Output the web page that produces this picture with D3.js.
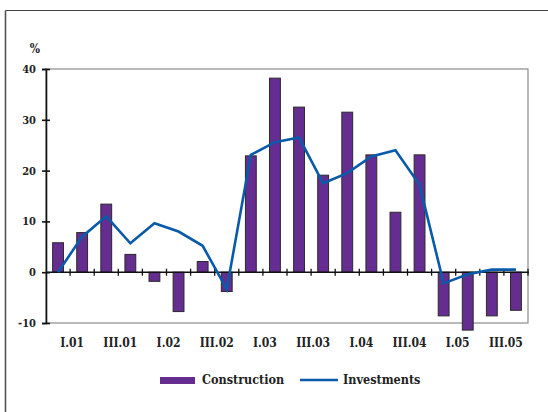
<!DOCTYPE html>
<html>
<head>
<meta charset="utf-8">
<script src="https://cdn.jsdelivr.net/npm/d3@7/dist/d3.min.js"></script>
<style>
  html, body { margin: 0; padding: 0; background: #fff; }
  svg { display: block; }
  text { font-family: "DejaVu Serif Condensed", "DejaVu Serif", serif; font-weight: bold; font-stretch: condensed; fill: #222; }
</style>
</head>
<body>
<svg id="chart" width="548" height="412"></svg>
<script>
const categories = ["I.01","II.01","III.01","IV.01","I.02","II.02","III.02","IV.02",
  "I.03","II.03","III.03","IV.03","I.04","II.04","III.04","IV.04",
  "I.05","II.05","III.05","IV.05"];
const construction = [5.8, 7.8, 13.4, 3.5, -1.8, -7.75, 2.1, -3.8,
  22.9, 38.2, 32.5, 19.1, 31.5, 23.1, 11.8, 23.1,
  -8.6, -11.4, -8.6, -7.5];
const investments = [0.0, 7.0, 11.0, 5.7, 9.65, 8.0, 5.2, -3.35,
  23.1, 25.6, 26.5, 17.5, 19.5, 22.8, 24.0, 17.2,
  -2.2, -0.4, 0.5, 0.5];
const yTicks = [-10, 0, 10, 20, 30, 40];
const xLabelCats = ["I.01","III.01","I.02","III.02","I.03","III.03","I.04","III.04","I.05","III.05"];
const seriesNames = ["Construction", "Investments"];

const svg = d3.select("#chart");
const pL = 46, pR = 528, pT = 69, pB = 323;
const purple = "#652d90", blue = "#0a5aaa";

// outer frame
svg.append("line").attr("x1", 5.5).attr("x2", 548).attr("y1", 10.5).attr("y2", 10.5)
  .attr("stroke", "#444").attr("stroke-width", 1.2);
svg.append("line").attr("x1", 5.5).attr("x2", 5.5).attr("y1", 10.5).attr("y2", 412)
  .attr("stroke", "#555").attr("stroke-width", 1.6);

const x = d3.scaleBand().domain(categories).range([pL, pR])
  .paddingInner(0.55).paddingOuter(0.275);
const y = d3.scaleLinear().domain([-10, 40]).range([pB, pT]);
const step = x.step();
const bandStart = d => x(d) - (step - x.bandwidth()) / 2;

// plot area border
svg.append("rect").attr("x", pL).attr("y", pT).attr("width", pR - pL).attr("height", pB - pT)
  .attr("fill", "none").attr("stroke", "#8a8a8a").attr("stroke-width", 1.2);

// bars
svg.append("g").selectAll("rect").data(categories).join("rect")
  .attr("x", d => x(d))
  .attr("width", x.bandwidth())
  .attr("y", (d, i) => y(Math.max(0, construction[i])))
  .attr("height", (d, i) => Math.abs(y(construction[i]) - y(0)))
  .attr("fill", purple)
  .attr("stroke", "#2a2a2a").attr("stroke-width", 1);

// zero axis with category boundary ticks
const zeroAxis = svg.append("g");
zeroAxis.append("line").attr("x1", pL).attr("x2", pR + 1).attr("y1", y(0)).attr("y2", y(0))
  .attr("stroke", "#111").attr("stroke-width", 1.6);
zeroAxis.selectAll("line.tk").data(categories).join("line").attr("class", "tk")
  .attr("x1", d => bandStart(d) + step)
  .attr("x2", d => bandStart(d) + step)
  .attr("y1", y(0) - 3.5).attr("y2", y(0) + 3.5)
  .attr("stroke", "#111").attr("stroke-width", 1.3);

// y axis
const yAxis = d3.axisLeft(y).tickValues(yTicks).tickSize(4).tickPadding(6).tickFormat(d => String(d));
const yg = svg.append("g").attr("transform", `translate(${pL},0)`).call(yAxis);
yg.attr("font-family", null).attr("font-size", null);
yg.select(".domain").attr("stroke", "#111").attr("stroke-width", 1.6);
yg.selectAll(".tick line").attr("x2", 4).attr("x1", -4).attr("stroke", "#111").attr("stroke-width", 1.6);
yg.selectAll(".tick text").attr("font-size", 11).attr("x", -10).attr("fill", "#222");

// % label
svg.append("text").attr("x", 35).attr("y", 53).attr("text-anchor", "middle").attr("font-size", 12).text("%");

// x labels: centered on boundary between paired quarters
svg.append("g").selectAll("text").data(xLabelCats).join("text")
  .attr("x", d => bandStart(d) + step + 2)
  .attr("y", 347)
  .attr("text-anchor", "middle").attr("font-size", 12)
  .text(d => d);

// investments line
const line = d3.line().x((d, i) => x(categories[i]) + x.bandwidth() / 2).y(d => y(d));
svg.append("path").datum(investments).attr("d", line)
  .attr("fill", "none").attr("stroke", blue).attr("stroke-width", 2.6).attr("stroke-linejoin", "miter");

// legend
const lg = svg.append("g");
lg.append("rect").attr("x", 160).attr("y", 377).attr("width", 35).attr("height", 7).attr("fill", purple);
lg.append("text").attr("x", 202).attr("y", 384).attr("font-size", 12.5).text(seriesNames[0]);
lg.append("line").attr("x1", 300).attr("x2", 338).attr("y1", 380).attr("y2", 380)
  .attr("stroke", blue).attr("stroke-width", 2.6);
lg.append("text").attr("x", 343).attr("y", 384).attr("font-size", 12.5).text(seriesNames[1]);
</script>
</body>
</html>
